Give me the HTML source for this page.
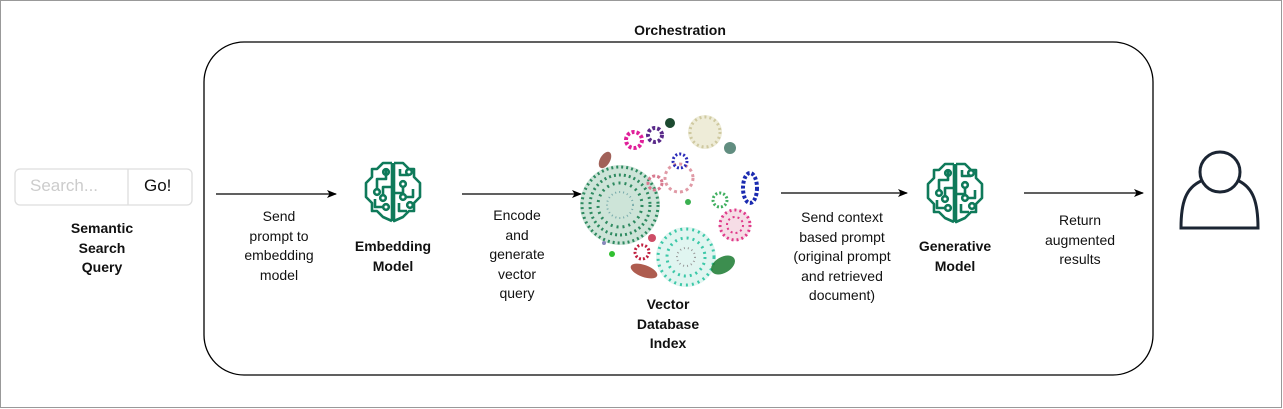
<!DOCTYPE html>
<html><head><meta charset="utf-8"><style>
html,body{margin:0;padding:0;background:#fff;}
body{width:1283px;height:409px;position:relative;overflow:hidden;font-family:"Liberation Sans",Arial,sans-serif;}
.t{position:absolute;text-align:center;font-size:14px;line-height:19.5px;color:#111;transform:translateX(-50%);white-space:nowrap;}
.b{font-weight:bold;}
</style></head><body>
<svg width="1283" height="409" style="position:absolute;left:0;top:0">
<defs>
<marker id="ah" markerWidth="10" markerHeight="10" refX="9" refY="5" orient="auto" markerUnits="userSpaceOnUse">
<path d="M0,1 L10,5 L0,9 L2.5,5 Z" fill="#000"/></marker>
<g id="brain" fill="none" stroke="#0f7a5a" stroke-width="2.6" stroke-linejoin="round">
<path d="M29,4 L29,62 M29,4 L20,4 L14,10 L9,10 L9,18 L3,24 L3,38 L9,44 L9,52 L14,52 L20,58 L29,62"/>
<path d="M31,4 L40,4 L46,10 L51,10 L51,18 L57,24 L57,38 L51,44 L51,52 L46,52 L40,58 L31,62 L31,4"/>
<path d="M23,10 L23,20 L14,20 L14,30"/><circle cx="14" cy="33" r="2.8"/>
<circle cx="23" cy="13" r="2.8"/>
<path d="M29,28 L20,28 L20,36"/><circle cx="20" cy="39" r="2.8"/>
<path d="M12,40 L12,48 L20,48"/><circle cx="23" cy="48" r="2.8"/>
<path d="M37,10 L37,16 L46,16"/><circle cx="46" cy="13" r="2.8"/>
<circle cx="40" cy="25" r="2.8"/><path d="M40,28 L40,34 L31,34"/>
<circle cx="40" cy="38" r="2.8"/><path d="M43,38 L50,38 L50,30"/>
<path d="M36,44 L36,52 L44,52"/><circle cx="47" cy="46" r="2.8"/>
</g>
</defs>
<rect x="0.5" y="0.5" width="1281" height="407" fill="none" stroke="#999"/>
<rect x="204" y="42" width="949" height="333" rx="40" fill="none" stroke="#000" stroke-width="1.3"/>
<rect x="15" y="169" width="177" height="36" rx="5" fill="#fff" stroke="#ddd" stroke-width="1.3"/>
<line x1="128" y1="169" x2="128" y2="205" stroke="#ddd" stroke-width="1.3"/>
<g stroke="#000" stroke-width="1.3" marker-end="url(#ah)">
<line x1="216" y1="194" x2="336" y2="194"/>
<line x1="462" y1="194" x2="581" y2="194"/>
<line x1="781" y1="193" x2="907" y2="193"/>
<line x1="1024" y1="193" x2="1143" y2="193"/>
</g>
<use href="#brain" x="363" y="159"/>
<use href="#brain" x="925" y="160"/>
<g fill="none" stroke="#1b2533" stroke-width="3">
<circle cx="1220" cy="172" r="20"/>
<path d="M1201,181 C1186,188 1181,202 1181,228 L1258,228 C1258,202 1253,188 1239,181"/>
</g>
<g>
<circle cx="620" cy="205" r="40" fill="#b8d8c8" opacity="0.7"/>
<circle cx="620" cy="205" r="38" fill="none" stroke="#2e8a60" stroke-width="3" stroke-dasharray="2 3"/>
<circle cx="620" cy="205" r="30" fill="none" stroke="#2e8a60" stroke-width="3" stroke-dasharray="2 3"/>
<circle cx="620" cy="205" r="22" fill="none" stroke="#2e8a60" stroke-width="3" stroke-dasharray="2 4"/>
<circle cx="620" cy="205" r="13" fill="none" stroke="#7aa" stroke-width="2" stroke-dasharray="1 3"/>
<circle cx="686" cy="257" r="30" fill="#d8f2ec" opacity="0.8"/>
<circle cx="686" cy="257" r="28" fill="none" stroke="#3cc8a8" stroke-width="3" stroke-dasharray="2 4"/>
<circle cx="686" cy="257" r="19" fill="none" stroke="#3cc8a8" stroke-width="3" stroke-dasharray="2 4"/>
<circle cx="686" cy="257" r="9" fill="none" stroke="#999" stroke-width="2" stroke-dasharray="1 3"/>
<circle cx="735" cy="225" r="16" fill="#f6dde6"/>
<circle cx="735" cy="225" r="15" fill="none" stroke="#e03a8a" stroke-width="3" stroke-dasharray="2 3"/>
<circle cx="735" cy="225" r="8" fill="none" stroke="#e03a8a" stroke-width="2" stroke-dasharray="2 3"/>
<circle cx="705" cy="132" r="17" fill="#eeecd8"/>
<circle cx="705" cy="132" r="15" fill="none" stroke="#cfc9a0" stroke-width="3" stroke-dasharray="2 3"/>
<circle cx="679" cy="178" r="14" fill="none" stroke="#e09aa6" stroke-width="3" stroke-dasharray="3 3"/>
<circle cx="655" cy="183" r="7" fill="none" stroke="#d87a90" stroke-width="3" stroke-dasharray="3 2"/>
<ellipse cx="750" cy="188" rx="7" ry="15" fill="none" stroke="#1a2ab0" stroke-width="4" stroke-dasharray="3 2"/>
<circle cx="680" cy="161" r="7" fill="none" stroke="#2a2ab8" stroke-width="3" stroke-dasharray="2 2"/>
<circle cx="634" cy="140" r="8" fill="none" stroke="#e0209a" stroke-width="4" stroke-dasharray="3 2"/>
<circle cx="655" cy="135" r="7" fill="none" stroke="#5a2a8a" stroke-width="4" stroke-dasharray="3 2"/>
<circle cx="670" cy="123" r="5" fill="#1c4a30"/>
<circle cx="730" cy="148" r="6" fill="#3a7060" opacity="0.8"/>
<ellipse cx="605" cy="160" rx="5" ry="9" fill="#8a3a30" opacity="0.8" transform="rotate(30 605 160)"/>
<ellipse cx="644" cy="271" rx="14" ry="6" fill="#a04030" opacity="0.85" transform="rotate(20 644 271)"/>
<circle cx="642" cy="252" r="7" fill="none" stroke="#c02040" stroke-width="3" stroke-dasharray="2 2"/>
<circle cx="652" cy="238" r="4" fill="#c02040" opacity="0.8"/>
<ellipse cx="723" cy="265" rx="13" ry="8" fill="#1a7a30" opacity="0.85" transform="rotate(-30 723 265)"/>
<circle cx="720" cy="200" r="7" fill="none" stroke="#40b060" stroke-width="3" stroke-dasharray="2 2"/>
<circle cx="688" cy="202" r="3" fill="#3ab050"/>
<circle cx="612" cy="254" r="3" fill="#30c030"/>
<circle cx="604" cy="243" r="2" fill="#8888bb"/>
</g>
</svg>
<div style="position:absolute;left:30px;top:176px;font-size:17px;color:#ccc">Search...</div>
<div style="position:absolute;left:144px;top:176px;font-size:17px;color:#111">Go!</div>
<div class="t b" style="left:680px;top:21px">Orchestration</div>
<div class="t b" style="left:102px;top:219px">Semantic<br>Search<br>Query</div>
<div class="t" style="left:279px;top:207px">Send<br>prompt to<br>embedding<br>model</div>
<div class="t b" style="left:393px;top:237px">Embedding<br>Model</div>
<div class="t" style="left:517px;top:206px">Encode<br>and<br>generate<br>vector<br>query</div>
<div class="t b" style="left:668px;top:295px">Vector<br>Database<br>Index</div>
<div class="t" style="left:842px;top:208px">Send context<br>based prompt<br>(original prompt<br>and retrieved<br>document)</div>
<div class="t b" style="left:955px;top:237px">Generative<br>Model</div>
<div class="t" style="left:1080px;top:211px">Return<br>augmented<br>results</div>
</body></html>
